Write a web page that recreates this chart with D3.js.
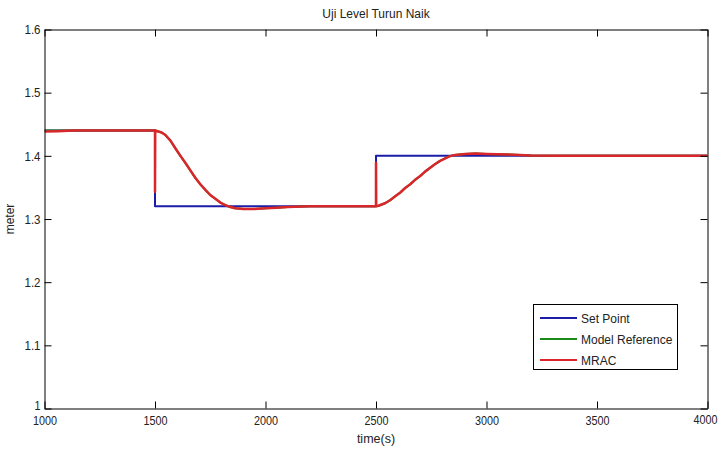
<!DOCTYPE html>
<html>
<head>
<meta charset="utf-8">
<script src="https://cdn.jsdelivr.net/npm/d3@7"></script>
<style>
  html, body { margin: 0; padding: 0; background: #fff; }
  svg { display: block; }
  text { font-family: "Liberation Sans", Arial, sans-serif; fill: #222; }
</style>
</head>
<body>
<svg id="chart" width="720" height="449"></svg>
<script>
const title = "Uji Level Turun Naik";
const xLabel = "time(s)";
const yLabel = "meter";
const xTicks = [1000, 1500, 2000, 2500, 3000, 3500, 4000];
const yTicks = [1, 1.1, 1.2, 1.3, 1.4, 1.5, 1.6];
const seriesNames = ["Set Point", "Model Reference", "MRAC"];

const setPoint = [
  [1000, 1.44], [1500, 1.44], [1500, 1.32], [2500, 1.32], [2500, 1.40], [4000, 1.40]
];

const modelRef = [
  [1000, 1.44], [1500, 1.44], [1530, 1.437], [1547, 1.433], [1570, 1.424], [1592, 1.412],
  [1615, 1.400], [1637, 1.389], [1660, 1.377], [1683, 1.365], [1705, 1.355], [1728, 1.346],
  [1750, 1.338], [1773, 1.332], [1796, 1.326], [1818, 1.322], [1841, 1.319], [1863, 1.317],
  [1900, 1.316], [1950, 1.316], [2000, 1.317], [2050, 1.318], [2100, 1.319], [2200, 1.320],
  [2500, 1.320], [2511, 1.321], [2541, 1.325], [2565, 1.330], [2587, 1.336], [2610, 1.342],
  [2632, 1.349], [2655, 1.355], [2677, 1.362], [2700, 1.368], [2722, 1.375], [2745, 1.381],
  [2768, 1.387], [2790, 1.392], [2813, 1.396], [2835, 1.3995], [2858, 1.4015], [2903, 1.403],
  [2950, 1.4035], [3000, 1.403], [3100, 1.402], [3200, 1.4005], [3300, 1.400], [4000, 1.400]
];

const mrac = [
  [1000, 1.4385], [1060, 1.439], [1130, 1.440], [1500, 1.44], [1500, 1.343], [1501, 1.44],
  [1530, 1.437], [1547, 1.433], [1570, 1.424], [1592, 1.412],
  [1615, 1.400], [1637, 1.389], [1660, 1.377], [1683, 1.365], [1705, 1.355], [1728, 1.346],
  [1750, 1.338], [1773, 1.332], [1796, 1.326], [1818, 1.322], [1841, 1.319], [1863, 1.317],
  [1900, 1.316], [1950, 1.316], [2000, 1.317], [2050, 1.318], [2100, 1.319], [2200, 1.320],
  [2500, 1.320], [2500, 1.389], [2501, 1.320], [2511, 1.321], [2541, 1.325], [2565, 1.330],
  [2587, 1.336], [2610, 1.342],
  [2632, 1.349], [2655, 1.355], [2677, 1.362], [2700, 1.368], [2722, 1.375], [2745, 1.381],
  [2768, 1.387], [2790, 1.392], [2813, 1.396], [2835, 1.3995], [2858, 1.4015], [2903, 1.403],
  [2950, 1.4035], [3000, 1.403], [3100, 1.402], [3200, 1.4005], [3300, 1.400], [4000, 1.400]
];

const colors = ["#1c1caa", "#1a8a1a", "#d8262a"];
const widths = [2, 2, 2.5];

const svg = d3.select("#chart");
const m = { left: 44.5, right: 707.5, top: 29.5, bottom: 408.5 };

const x = d3.scaleLinear().domain([1000, 4000]).range([m.left, m.right]);
const y = d3.scaleLinear().domain([1, 1.6]).range([m.bottom, m.top]);

const plot = svg.append("g");
plot.append("clipPath").attr("id", "clip").append("rect")
  .attr("x", m.left).attr("y", m.top).attr("width", m.right - m.left).attr("height", m.bottom - m.top);

const line = d3.line().x(d => x(d[0])).y(d => y(d[1]));
const series = [setPoint, modelRef, mrac];
series.forEach((s, i) => {
  plot.append("path").datum(s)
    .attr("clip-path", "url(#clip)")
    .attr("fill", "none")
    .attr("stroke", colors[i])
    .attr("stroke-width", widths[i])
    .attr("stroke-linejoin", "round")
    .attr("d", line);
});

// Axes (inward ticks, all four sides)
const tl = 7;
const fmtY = d => d === 1 ? "1" : d3.format(".1f")(d);
const axB = d3.axisBottom(x).tickValues(xTicks).tickSizeInner(-tl).tickSizeOuter(0).tickPadding(7).tickFormat(d3.format("d"));
const axT = d3.axisTop(x).tickValues(xTicks).tickSizeInner(-tl).tickSizeOuter(0).tickFormat("");
const axL = d3.axisLeft(y).tickValues(yTicks).tickSizeInner(-tl).tickSizeOuter(0).tickPadding(4).tickFormat(fmtY);
const axR = d3.axisRight(y).tickValues(yTicks).tickSizeInner(-tl).tickSizeOuter(0).tickFormat("");

function styleAxis(g) {
  g.select(".domain").attr("stroke", "#000").attr("stroke-width", 1);
  g.selectAll(".tick line").attr("stroke", "#000");
  g.selectAll(".tick text").attr("fill", "#222")
    .style("font-family", "'Liberation Sans', Arial, sans-serif")
    .style("font-size", "13px");
}
const gb = svg.append("g").attr("transform", `translate(0,${m.bottom})`).call(axB).call(styleAxis);
gb.selectAll(".tick text").attr("textLength", 24).attr("lengthAdjust", "spacingAndGlyphs");
gb.selectAll(".tick text").filter(d => d === 4000).attr("text-anchor", "end").attr("dx", 9.5)
  .style("font-size", "12px").attr("textLength", 24);
svg.append("g").attr("transform", `translate(0,${m.top})`).call(axT).call(styleAxis);
const gl = svg.append("g").attr("transform", `translate(${m.left},0)`).call(axL).call(styleAxis);
gl.selectAll(".tick text").filter(d => d !== 1).attr("textLength", 16).attr("lengthAdjust", "spacingAndGlyphs");
gl.selectAll(".tick text").filter(d => d === 1).attr("dy", "0.1em").attr("textLength", 6).attr("lengthAdjust", "spacingAndGlyphs");
svg.append("g").attr("transform", `translate(${m.right},0)`).call(axR).call(styleAxis);

// Titles
svg.append("text").attr("x", (m.left + m.right) / 2).attr("y", 18)
  .attr("text-anchor", "middle").style("font-size", "12px").text(title);
svg.append("text").attr("x", (m.left + m.right) / 2).attr("y", 443)
  .attr("text-anchor", "middle").style("font-size", "12.5px").text(xLabel);
svg.append("text").attr("transform", `translate(14,${(m.top + m.bottom) / 2}) rotate(-90)`)
  .attr("text-anchor", "middle").style("font-size", "12px").text(yLabel);

// Legend
const lg = svg.append("g");
lg.append("rect").attr("x", 533.5).attr("y", 304.5).attr("width", 144).attr("height", 65)
  .attr("fill", "#fff").attr("stroke", "#000").attr("stroke-width", 1);
seriesNames.forEach((n, i) => {
  const yy = 318 + i * 21;
  lg.append("line").attr("x1", 540).attr("x2", 577).attr("y1", yy).attr("y2", yy)
    .attr("stroke", colors[i]).attr("stroke-width", 2);
  lg.append("text").attr("x", 581).attr("y", yy + 4.5).style("font-size", "12px").text(n);
});
</script>
</body>
</html>
